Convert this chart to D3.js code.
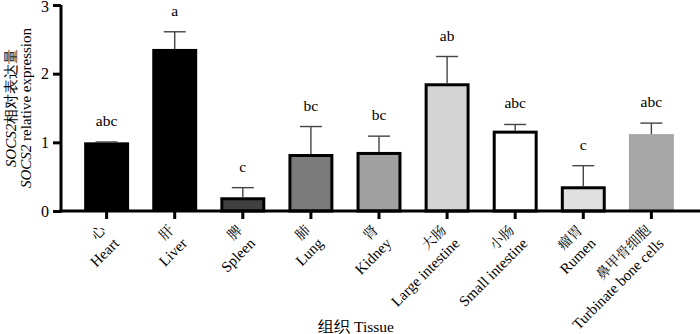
<!DOCTYPE html>
<html>
<head>
<meta charset="utf-8">
<script src="https://cdn.jsdelivr.net/npm/d3@7"></script>
<style>
  body { margin: 0; background: #fff; }
  svg text { font-family: "Liberation Serif", "Times New Roman", serif; }
</style>
</head>
<body>
<div id="chart"></div>
<script>
// tissues (zh / en)
var tissueZh = ["心", "肝", "脾", "肺", "肾", "大肠", "小肠", "瘤胃", "鼻甲骨细胞"];
var tissueEn = ["Heart", "Liver", "Spleen", "Lung", "Kidney", "Large intestine", "Small intestine", "Rumen", "Turbinate bone cells"];
// relative expression
var meanVals = [1.00, 2.36, 0.20, 0.83, 0.86, 1.86, 1.17, 0.36, 1.12];
var sdVals   = [0.005, 0.25, 0.14, 0.40, 0.23, 0.39, 0.09, 0.30, 0.16];
var sigLetters = ["abc", "a", "c", "bc", "bc", "ab", "abc", "c", "abc"];
var yTicks = [0, 1, 2, 3];

var fills   = ["#000000", "#000000", "#404040", "#7b7b7b", "#a0a0a0", "#d4d4d4", "#ffffff", "#e0e0e0", "#a6a6a6"];
var bordered = [false, false, true, true, true, true, true, true, false];

var W = 700, H = 334;
var margin = {left: 61, top: 5, right: 3, bottom: 123};
var w = W - margin.left - margin.right, h = H - margin.top - margin.bottom;

var svg = d3.select("#chart").append("svg")
    .attr("width", W).attr("height", H);
var g = svg.append("g")
    .attr("transform", "translate(" + margin.left + "," + margin.top + ")");

var x = d3.scaleBand()
    .domain(tissueEn)
    .range([0, w])
    .padding(0.34);

var y = d3.scaleLinear()
    .domain([0, 3])
    .range([h, 0]);

var data = tissueEn.map(function (d, i) {
  return {en: d, zh: tissueZh[i], v: meanVals[i], sd: sdVals[i], lab: sigLetters[i], fill: fills[i], border: bordered[i]};
});

// bars
g.selectAll("rect.bar")
  .data(data)
  .enter().append("rect")
    .attr("class", "bar")
    .attr("x", d => x(d.en) + (d.border ? 1.5 : 0))
    .attr("width", d => x.bandwidth() - (d.border ? 3 : 0))
    .attr("y", d => y(d.v) + (d.border ? 1.5 : 0))
    .attr("height", d => h - y(d.v) - (d.border ? 1.5 : 0))
    .attr("fill", d => d.fill)
    .attr("stroke", d => d.border ? "#000" : "none")
    .attr("stroke-width", 3);

// error bars (upper only)
var capW = 22;
var eb = g.selectAll("g.err").data(data).enter().append("g").attr("class", "err");
eb.append("line")
    .attr("x1", d => x(d.en) + x.bandwidth() / 2)
    .attr("x2", d => x(d.en) + x.bandwidth() / 2)
    .attr("y1", d => y(d.v))
    .attr("y2", d => y(d.v + d.sd))
    .attr("stroke", "#444").attr("stroke-width", 1.4);
eb.append("line")
    .attr("x1", d => x(d.en) + x.bandwidth() / 2 - capW / 2)
    .attr("x2", d => x(d.en) + x.bandwidth() / 2 + capW / 2)
    .attr("y1", d => y(d.v + d.sd))
    .attr("y2", d => y(d.v + d.sd))
    .attr("stroke", "#444").attr("stroke-width", 1.4);

// significance letters
g.selectAll("text.sig").data(data).enter().append("text")
    .attr("class", "sig")
    .attr("x", d => x(d.en) + x.bandwidth() / 2)
    .attr("y", d => y(d.v + d.sd) - 16)
    .attr("text-anchor", "middle")
    .attr("font-size", 15.5)
    .attr("fill", "#000")
    .text(d => d.lab);

// y axis
var yAxis = g.append("g")
    .call(d3.axisLeft(y).tickValues(yTicks).tickFormat(d3.format("d")).tickSize(8).tickPadding(4));
yAxis.select(".domain").attr("stroke-width", 3).attr("d", "M0," + (h + 1.5) + "V0");
yAxis.selectAll(".tick line").attr("stroke-width", 3);
yAxis.selectAll(".tick text").attr("font-size", 16).attr("font-family", "Liberation Serif")
    .attr("dy", d => d === 3 ? "0.4em" : "0.32em");

// x axis
var xAxis = g.append("g")
    .attr("transform", "translate(0," + h + ")")
    .call(d3.axisBottom(x).tickSize(8).tickFormat(""));
xAxis.select(".domain").attr("stroke-width", 3).attr("d", "M-1.5,0H" + (w + 3));
xAxis.selectAll(".tick line").attr("stroke-width", 3);

// rotated two-line tick labels
var lab = xAxis.selectAll(".tick").append("text")
    .attr("transform", "translate(0,20) rotate(-45)")
    .attr("text-anchor", "end")
    .attr("fill", "#000")
    .attr("font-size", 15);
lab.append("tspan").attr("x", 0).attr("dy", 0)
    .style("font-family", "'Noto Serif CJK SC', 'Noto Sans CJK SC', serif")
    .attr("font-size", 14)
    .text((d, i) => tissueZh[i]);
lab.append("tspan").attr("x", 0).attr("dy", "1.25em")
    .text(d => d);

// x axis title
svg.append("text")
    .attr("x", 356).attr("y", 332)
    .attr("text-anchor", "middle")
    .attr("font-size", 15.5)
    .text("组织 Tissue");

// y axis title, two lines
var yt = svg.append("text")
    .attr("transform", "translate(16," + (margin.top + h / 2) + ") rotate(-90)")
    .attr("text-anchor", "middle")
    .attr("font-size", 15);
var l1 = yt.append("tspan").attr("x", 0);
l1.append("tspan").attr("font-style", "italic").text("SOCS2");
l1.append("tspan").text("相对表达量");
yt.append("tspan").attr("x", 0).attr("dy", "1em").attr("font-style", "italic").text("SOCS2");
yt.append("tspan").text(" relative expression");
</script>
</body>
</html>
